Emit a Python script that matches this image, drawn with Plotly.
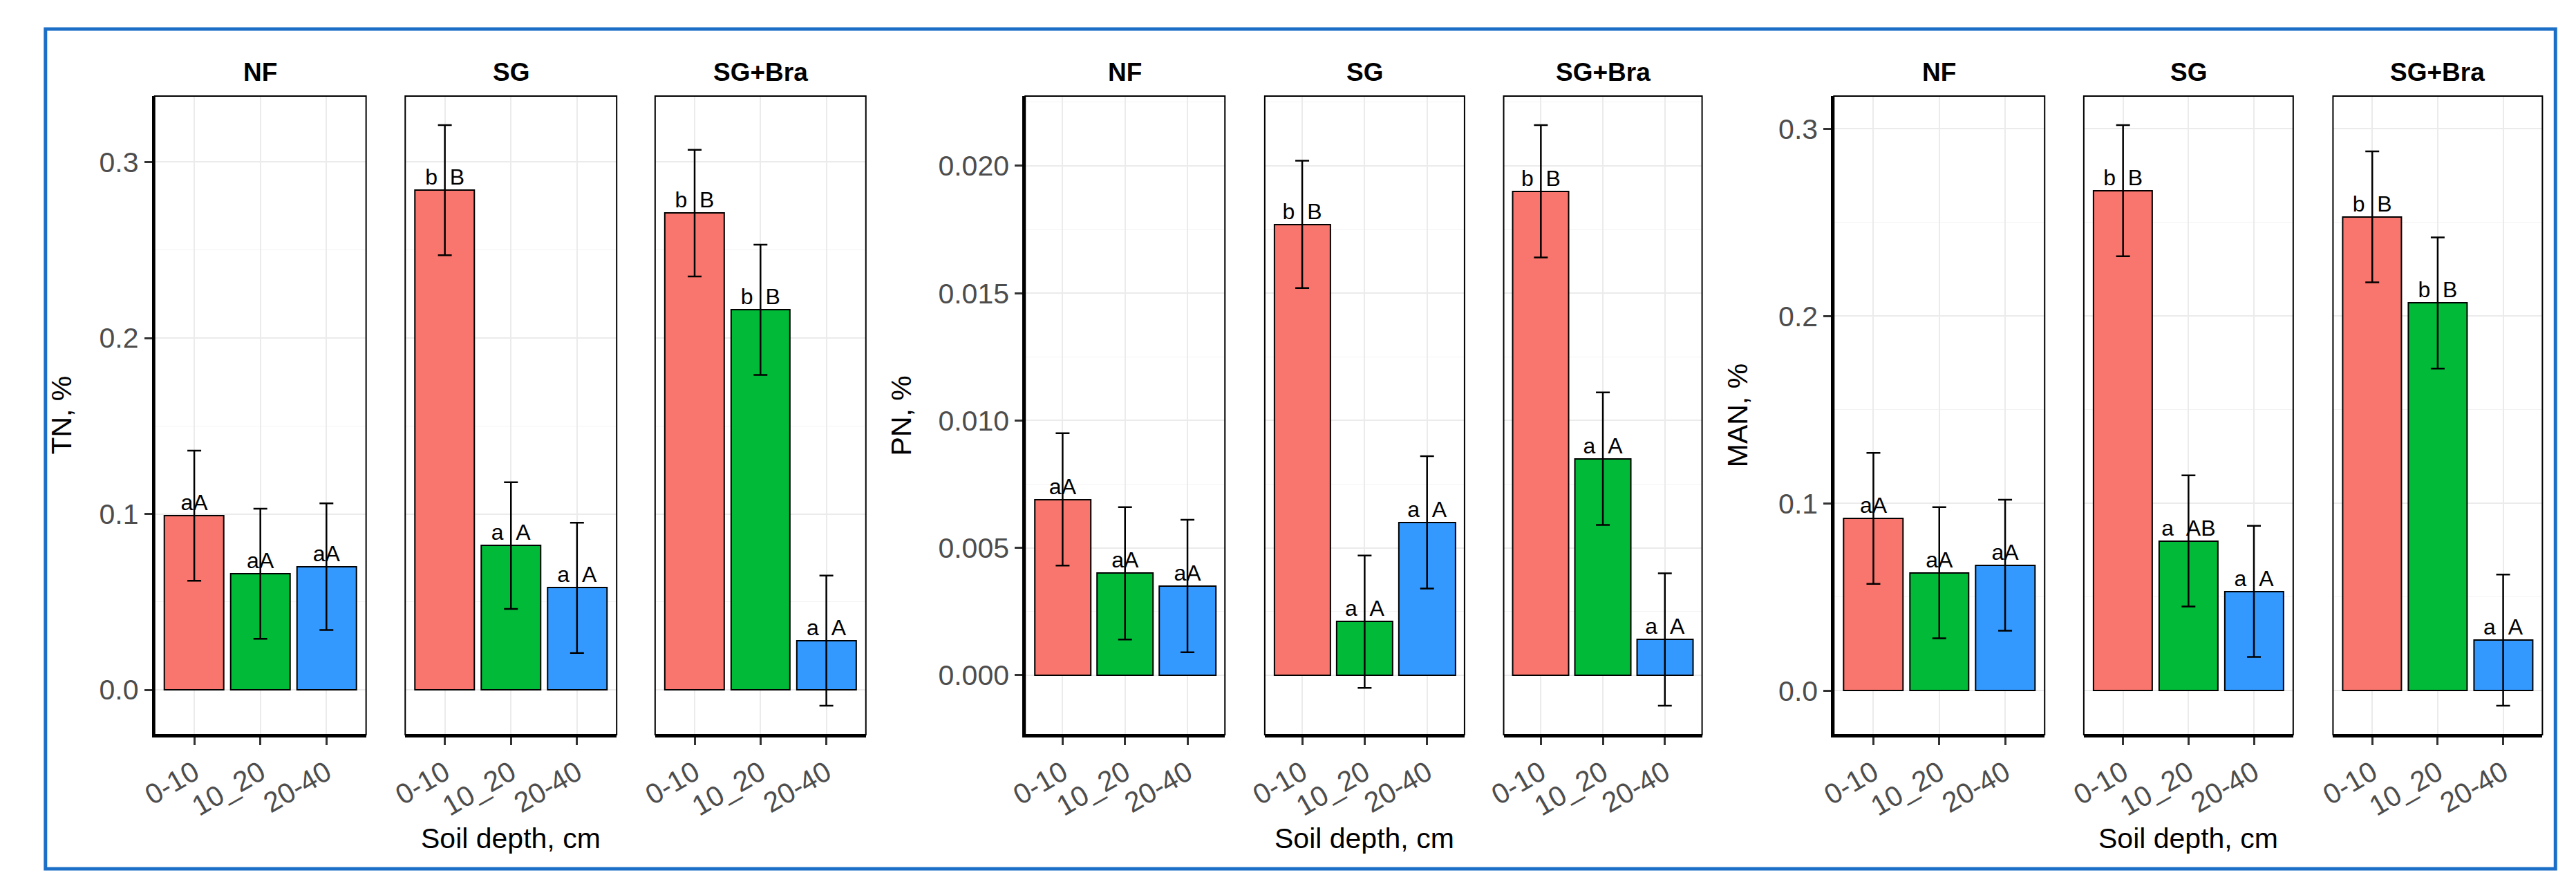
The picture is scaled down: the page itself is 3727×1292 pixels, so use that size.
import plotly.graph_objects as go

# soil depth classes and land-use treatments
depths = ["0-10", "10_20", "20-40"]
treatments = ["NF", "SG", "SG+Bra"]
bar_colors = ["#F8766D", "#00BA38", "#3399FF"]

# means (rows = NF, SG, SG+Bra; cols = depth) and standard errors
tn_mean = [[0.099, 0.066, 0.070], [0.284, 0.082, 0.058], [0.271, 0.216, 0.028]]
tn_se = [[0.037, 0.037, 0.036], [0.037, 0.036, 0.037], [0.036, 0.037, 0.037]]
tn_letters = [["aA", "aA", "aA"], ["b B", "a A", "a A"], ["b B", "b B", "a A"]]

pn_mean = [[0.0069, 0.0040, 0.0035], [0.0177, 0.0021, 0.0060], [0.0190, 0.0085, 0.0014]]
pn_se = [[0.0026, 0.0026, 0.0026], [0.0025, 0.0026, 0.0026], [0.0026, 0.0026, 0.0026]]
pn_letters = [["aA", "aA", "aA"], ["b B", "a A", "a A"], ["b B", "a A", "a A"]]

man_mean = [[0.092, 0.063, 0.067], [0.267, 0.080, 0.053], [0.253, 0.207, 0.027]]
man_se = [[0.035, 0.035, 0.035], [0.035, 0.035, 0.035], [0.035, 0.035, 0.035]]
man_letters = [["aA", "aA", "aA"], ["b B", "a AB", "a A"], ["b B", "b B", "a A"]]

tn_ticks = [0.0, 0.1, 0.2, 0.3]
tn_ticktext = ["0.0", "0.1", "0.2", "0.3"]
pn_ticks = [0.0, 0.005, 0.010, 0.015, 0.020]
pn_ticktext = ["0.000", "0.005", "0.010", "0.015", "0.020"]
man_ticks = [0.0, 0.1, 0.2, 0.3]
man_ticktext = ["0.0", "0.1", "0.2", "0.3"]

W, H = 3727, 1292
FONT = "Liberation Sans, Arial, sans-serif"

groups = [
    dict(mean=tn_mean, se=tn_se, letters=tn_letters, title="TN, %", ticks=tn_ticks,
         ticktext=tn_ticktext, minor=0.05, title_x=56,
         panels=[(192, 500), (557, 865), (921, 1228)]),
    dict(mean=pn_mean, se=pn_se, letters=pn_letters, title="PN, %", ticks=pn_ticks,
         ticktext=pn_ticktext, minor=0.0025, title_x=1280,
         panels=[(1460, 1751), (1809, 2100), (2157, 2446)]),
    dict(mean=man_mean, se=man_se, letters=man_letters, title="MAN, %", ticks=man_ticks,
         ticktext=man_ticktext, minor=0.05, title_x=2498,
         panels=[(2638, 2945), (3002, 3307), (3365, 3670)]),
]

PANEL_TOP, PANEL_BOTTOM = 131, 1055
ydom = [1 - PANEL_BOTTOM / H, 1 - PANEL_TOP / H]

fig = go.Figure()
layout = {}
annotations = []
shapes = []

k = 0
for g in groups:
    # ggplot-like range: data incl. error bars, expanded 5%
    lows = [m - s for rm, rs in zip(g["mean"], g["se"]) for m, s in zip(rm, rs)]
    highs = [m + s for rm, rs in zip(g["mean"], g["se"]) for m, s in zip(rm, rs)]
    lo, hi = min(lows + [0]), max(highs)
    pad = (hi - lo) * 0.05
    yr = [lo - pad, hi + pad]

    for j, trt in enumerate(treatments):
        k += 1
        xa = "x" if k == 1 else f"x{k}"
        ya = "y" if k == 1 else f"y{k}"
        x0, x1 = g["panels"][j]

        fig.add_trace(go.Bar(
            x=depths, y=g["mean"][j], xaxis=xa, yaxis=ya, width=0.9,
            marker=dict(color=bar_colors, line=dict(color="black", width=2)),
            error_y=dict(type="data", array=g["se"][j], color="black",
                         thickness=2.5, width=10),
            showlegend=False, hoverinfo="skip",
        ))
        # wider gap between the two letter groups, as in the original
        labels = [t.replace(" ", "\u00a0\u00a0") for t in g["letters"][j]]
        fig.add_trace(go.Scatter(
            x=depths, y=g["mean"][j], xaxis=xa, yaxis=ya, mode="text",
            text=labels, textposition="top center",
            textfont=dict(size=32, color="black", family=FONT),
            showlegend=False, hoverinfo="skip", cliponaxis=False,
        ))

        first = j == 0
        layout["xaxis" if k == 1 else f"xaxis{k}"] = dict(
            domain=[x0 / W, x1 / W], anchor=ya, type="category",
            range=[-0.6, 2.6], tickangle=-30, ticks="outside", ticklen=11,
            tickwidth=2.5, tickcolor="#333333",
            tickfont=dict(size=41, color="#4D4D4D", family=FONT),
            showgrid=True, gridcolor="#EBEBEB", gridwidth=2,
            showline=True, linecolor="black", linewidth=4, zeroline=False,
        )
        layout["yaxis" if k == 1 else f"yaxis{k}"] = dict(
            domain=ydom, anchor=xa, range=yr,
            tickvals=g["ticks"], ticktext=g["ticktext"],
            showticklabels=first, ticks="outside" if first else "",
            ticklen=11, tickwidth=2.5, tickcolor="#333333",
            tickfont=dict(size=41, color="#4D4D4D", family=FONT),
            showgrid=True, gridcolor="#EBEBEB", gridwidth=2,
            minor=dict(showgrid=True, gridcolor="#F3F3F3", gridwidth=1,
                       tick0=0, dtick=g["minor"]),
            showline=first, linecolor="black", linewidth=4, zeroline=False,
        )
        # panel border
        shapes.append(dict(type="rect", xref=f"{xa} domain", yref=f"{ya} domain",
                           x0=0, x1=1, y0=0, y1=1, layer="above",
                           line=dict(color="black", width=2)))
        # strip label
        annotations.append(dict(text=f"<b>{trt}</b>", xref=f"{xa} domain", yref="paper",
                                x=0.5, y=1 - 97 / H, xanchor="center", yanchor="middle",
                                showarrow=False,
                                font=dict(size=37, color="black", family=FONT)))

    # axis titles for the group
    cx = (g["panels"][1][0] + g["panels"][1][1]) / 2
    annotations.append(dict(text="Soil depth, cm", xref="paper", yref="paper",
                            x=cx / W, y=1 - 1205 / H, xanchor="center", yanchor="middle",
                            showarrow=False,
                            font=dict(size=41, color="black", family=FONT)))
    annotations.append(dict(text=g["title"], xref="paper", yref="paper",
                            x=g["title_x"] / W, y=1 - (PANEL_TOP + PANEL_BOTTOM) / 2 / H,
                            xanchor="center", yanchor="middle",
                            textangle=-90, showarrow=False,
                            font=dict(size=41, color="black", family=FONT)))

# blue frame
shapes.append(dict(type="rect", xref="paper", yref="paper",
                   x0=33 / W, x1=3689 / W, y0=1 - 1249 / H, y1=1 - 34 / H,
                   line=dict(color="#1C6FC6", width=5)))

fig.update_layout(
    width=W, height=H, margin=dict(l=0, r=0, t=0, b=0),
    paper_bgcolor="white", plot_bgcolor="white",
    font=dict(family=FONT), bargap=0,
    annotations=annotations, shapes=shapes, **layout,
)

fig.write_html("out.html")
